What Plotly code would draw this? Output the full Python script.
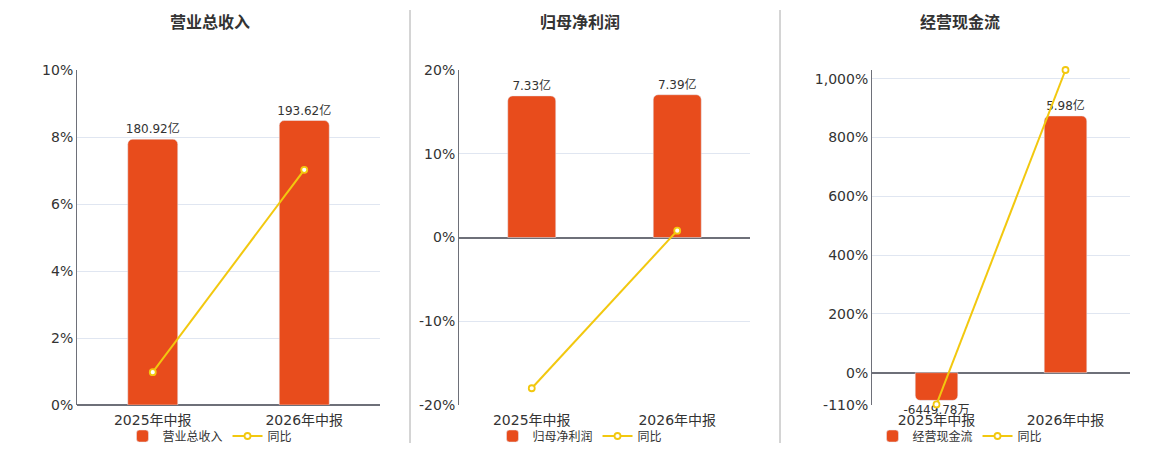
import plotly.graph_objects as go

# ---- data ----
categories = ["2025年中报", "2026年中报"]
titles = ["营业总收入", "归母净利润", "经营现金流"]

rev_values = [180.92, 193.62]          # 亿
rev_labels = ["180.92亿", "193.62亿"]
rev_yoy = [0.98, 7.02]                 # %

np_values = [7.33, 7.39]               # 亿
np_labels = ["7.33亿", "7.39亿"]
np_yoy = [-18.0, 0.82]                 # %

cf_values = [-0.644978, 5.98]          # 亿
cf_labels = ["-6449.78万", "5.98亿"]
cf_yoy = [-108.0, 1030.0]              # %

pct_ticks = [
    [0, 2, 4, 6, 8, 10],
    [-20, -10, 0, 10, 20],
    [-110, 0, 200, 400, 600, 800, 1000, 1030],
]
pct_ticktext = [
    ["0%", "2%", "4%", "6%", "8%", "10%"],
    ["-20%", "-10%", "0%", "10%", "20%"],
    ["-110%", "0%", "200%", "400%", "600%", "800%", "1,000%", ""],
]
pct_ranges = [[0, 10], [-20, 20], [-110, 1030]]
bar_tops = [228, 8.67, 7.05]

panels = [
    (rev_values, rev_labels, rev_yoy),
    (np_values, np_labels, np_yoy),
    (cf_values, cf_labels, cf_yoy),
]

# ---- style ----
OFF = 8                       # page body margin of the browser
W, H = 1160 - OFF, 450 - OFF
BAR = "#E84C1C"
LINE = "#F2C80F"
FONT = "DejaVu Sans, Noto Sans CJK SC, sans-serif"
AXIS = "#6E7079"
GRID = "#E0E6F1"


def fx(px):
    return (px - OFF) / W


def fy(py):
    return 1 - (py - OFF) / H


plot_x = [(77, 380), (459, 750), (872, 1130)]
centers = [210, 580, 960]
ytop, ybot = 70, 405
ydom = [fy(ybot), fy(ytop)]

fig = go.Figure()
layout = {}
for i, (vals, labels, yoy) in enumerate(panels):
    n = i * 4
    a, b, c, d = n + 1, n + 2, n + 3, n + 4
    xa, yb, yc, xd = f"x{a}", f"y{b}", f"y{c}", f"x{d}"
    xdom = [fx(plot_x[i][0]), fx(plot_x[i][1])]
    lo, hi = pct_ranges[i]
    zero_frac = (0 - lo) / (hi - lo)
    btop = bar_tops[i]
    bbot = -btop * zero_frac / (1 - zero_frac)
    zero_pos = ydom[0] + zero_frac * (ydom[1] - ydom[0])
    lkey = "legend" if i == 0 else f"legend{i + 1}"

    fig.add_trace(go.Bar(
        x=categories, y=vals, text=labels, textposition="outside",
        constraintext="none",
        textfont=dict(size=12, color="#333", family=FONT),
        marker=dict(color=BAR, cornerradius=5), width=0.33,
        cliponaxis=False, name=titles[i], xaxis=xa, yaxis=yb,
        legend=lkey, hoverinfo="skip",
    ))
    fig.add_trace(go.Scatter(
        x=categories, y=yoy, mode="lines+markers", name="同比",
        line=dict(color=LINE, width=2),
        marker=dict(size=6, color="white", line=dict(color=LINE, width=1.8)),
        cliponaxis=False, xaxis=xa, yaxis=yc,
        legend=lkey, hoverinfo="skip",
    ))

    layout[f"xaxis{a}"] = dict(
        domain=xdom, anchor=yb, type="category", showline=False,
        showgrid=False, zeroline=False, ticks="", ticklabelstandoff=5,
        tickfont=dict(size=14, color="#333", family=FONT),
        range=[-0.5, 1.5],
    )
    # axis line at zero with boundary ticks (no traces on it)
    layout[f"xaxis{d}"] = dict(
        overlaying=xa, anchor="free", position=zero_pos, type="linear",
        range=[-0.5, 1.5], tickvals=[-0.5, 0.5, 1.5],
        showline=True, linecolor=AXIS, linewidth=2, showgrid=False,
        zeroline=False, ticks="outside", ticklen=5, tickwidth=1,
        tickcolor=AXIS, showticklabels=False,
    )
    layout[f"yaxis{b}"] = dict(
        domain=ydom, anchor=xa, range=[bbot, btop], visible=False,
        showgrid=False, zeroline=False,
    )
    layout[f"yaxis{c}"] = dict(
        overlaying=yb, anchor=xa, side="left", range=[lo, hi],
        tickvals=pct_ticks[i], ticktext=pct_ticktext[i],
        showgrid=True, gridcolor=GRID, gridwidth=1,
        zeroline=True, zerolinecolor=AXIS, zerolinewidth=2,
        showline=True, linecolor=AXIS, linewidth=1, ticks="",
        tickfont=dict(size=14, color="#333", family=FONT),
    )
    layout[lkey] = dict(
        orientation="h", x=fx(centers[i]), xanchor="center",
        y=fy(436), yanchor="middle",
        font=dict(size=12, color="#333", family=FONT),
        bgcolor="rgba(0,0,0,0)", itemwidth=30, tracegroupgap=0,
    )

annotations = [
    dict(text=f"<b>{t}</b>", x=fx(centers[k]), y=fy(22), xref="paper",
         yref="paper", showarrow=False, xanchor="center", yanchor="middle",
         font=dict(size=16, color="#333", family=FONT))
    for k, t in enumerate(titles)
]
shapes = [
    dict(type="line", xref="paper", yref="paper", x0=fx(px), x1=fx(px),
         y0=fy(443), y1=fy(10), line=dict(color="#AAAAAA", width=1))
    for px in (410, 780)
]

fig.update_layout(
    width=W, height=H,
    margin=dict(l=0, r=0, t=0, b=0, autoexpand=False),
    paper_bgcolor="white", plot_bgcolor="rgba(0,0,0,0)",
    font=dict(family=FONT, color="#333"),
    annotations=annotations, shapes=shapes, barmode="group",
    **layout,
)
fig.write_html("out.html")
